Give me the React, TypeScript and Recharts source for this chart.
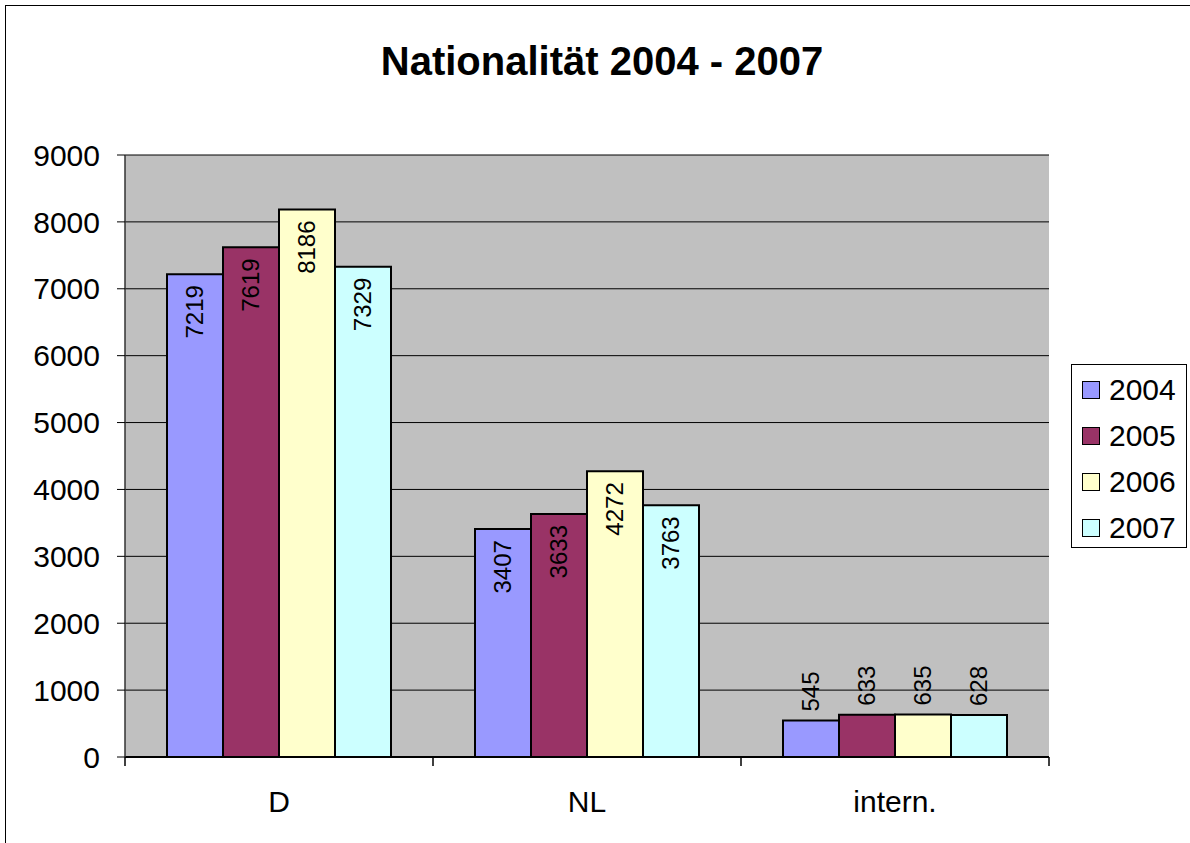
import React from "react";
import {
  BarChart,
  Bar,
  XAxis,
  YAxis,
  CartesianGrid,
  Legend,
  LabelList,
} from "recharts";

const categories = ["D", "NL", "intern."];
const years = ["2004", "2005", "2006", "2007"];
const values2004 = [7219, 3407, 545];
const values2005 = [7619, 3633, 633];
const values2006 = [8186, 4272, 635];
const values2007 = [7329, 3763, 628];
const yTicks = [0, 1000, 2000, 3000, 4000, 5000, 6000, 7000, 8000, 9000];
const colors = ["#9999FF", "#993366", "#FFFFCC", "#CCFFFF"];

const seriesValues = [values2004, values2005, values2006, values2007];
const data = categories.map((name, i) => {
  const row: Record<string, string | number> = { name };
  years.forEach((y, s) => {
    row[y] = seriesValues[s][i];
  });
  return row;
});

const W = 1190;
const H = 843;
const FONT = "Arial, 'Liberation Sans', sans-serif";
const PLOT_LEFT = 125;
const PLOT_RIGHT = 1049;
const BAND = (PLOT_RIGHT - PLOT_LEFT) / categories.length;

const XTick = (props: any) => {
  const { x, y, payload, index } = props;
  const left = x - BAND / 2;
  return (
    <g>
      <line x1={left} x2={left} y1={y} y2={y + 9} stroke="#000" strokeWidth={1.5} />
      {index === categories.length - 1 && (
        <line x1={left + BAND} x2={left + BAND} y1={y} y2={y + 9} stroke="#000" strokeWidth={1.5} />
      )}
      <text x={x} y={y + 55} textAnchor="middle" fontSize={30} fontFamily={FONT} fill="#000">
        {payload.value}
      </text>
    </g>
  );
};

const BarLabel = (props: any) => {
  const x = Number(props.x);
  const y = Number(props.y);
  const w = Number(props.width);
  const v = Number(props.value);
  const cx = x + w / 2;
  const inside = v > 2000;
  const ty = inside ? y + 11 : y - 9;
  return (
    <text
      x={cx}
      y={ty}
      transform={`rotate(-90 ${cx} ${ty})`}
      textAnchor={inside ? "end" : "start"}
      dominantBaseline="central"
      fontSize={24}
      fontFamily={FONT}
      fill="#000"
    >
      {v}
    </text>
  );
};

const LegendBox = (props: any) => {
  const items = props.payload || [];
  return (
    <div
      style={{
        boxSizing: "border-box",
        width: 116,
        height: 184,
        border: "1px solid #000",
        background: "#fff",
        paddingTop: 2,
        fontFamily: FONT,
      }}
    >
      {items.map((it: any) => (
        <div
          key={it.value}
          style={{ height: 46, display: "flex", alignItems: "center", paddingLeft: 10 }}
        >
          <span
            style={{
              display: "inline-block",
              boxSizing: "border-box",
              width: 18,
              height: 18,
              background: it.color,
              border: "1.5px solid #000",
              marginRight: 9,
            }}
          />
          <span style={{ fontSize: 30, lineHeight: "30px", color: "#000" }}>{it.value}</span>
        </div>
      ))}
    </div>
  );
};

export default function App() {
  return (
    <div style={{ position: "absolute", left: 0, top: 0, width: W, height: H, background: "#fff" }}>
      <div
        style={{
          position: "absolute",
          left: 5,
          top: 5,
          width: 1200,
          height: 860,
          border: "1px solid #000",
        }}
      />
      <div
        style={{
          position: "absolute",
          left: 302,
          top: 41,
          width: 600,
          textAlign: "center",
          fontFamily: FONT,
          fontWeight: "bold",
          fontSize: 40,
          lineHeight: "40px",
          color: "#000",
        }}
      >
        Nationalität 2004 - 2007
      </div>
      <div style={{ position: "absolute", left: 0, top: 0 }}>
        <BarChart
          width={W}
          height={H}
          data={data}
          margin={{ top: 155, right: W - PLOT_RIGHT, bottom: 26, left: 0 }}
          barCategoryGap={42}
          barGap={0}
        >
          <CartesianGrid vertical={false} stroke="#000" fill="#C0C0C0" fillOpacity={1} />
          <XAxis
            dataKey="name"
            height={60}
            tickSize={0}
            tickMargin={0}
            tickLine={false}
            axisLine={{ stroke: "#000", strokeWidth: 2 }}
            tick={<XTick />}
            interval={0}
          />
          <YAxis
            width={PLOT_LEFT}
            domain={[0, 9000]}
            ticks={yTicks}
            interval={0}
            tickSize={8}
            tickMargin={17}
            tickLine={{ stroke: "#000" }}
            axisLine={{ stroke: "#333", strokeWidth: 1.5 }}
            tick={{ fontSize: 30, fontFamily: FONT, fill: "#000" }}
          />
          <YAxis
            yAxisId="r"
            orientation="right"
            width={0}
            domain={[0, 9000]}
            tick={false}
            tickLine={false}
            axisLine={{ stroke: "#808080", strokeWidth: 2 }}
          />
          <Legend
            layout="vertical"
            align="center"
            verticalAlign="middle"
            content={<LegendBox />}
            wrapperStyle={{ left: 1071, top: 364, width: 116, height: 184 }}
          />
          {years.map((y, i) => (
            <Bar
              key={y}
              dataKey={y}
              name={y}
              fill={colors[i]}
              stroke="#000"
              strokeWidth={2}
              isAnimationActive={false}
            >
              <LabelList dataKey={y} content={<BarLabel />} />
            </Bar>
          ))}
        </BarChart>
      </div>
    </div>
  );
}
